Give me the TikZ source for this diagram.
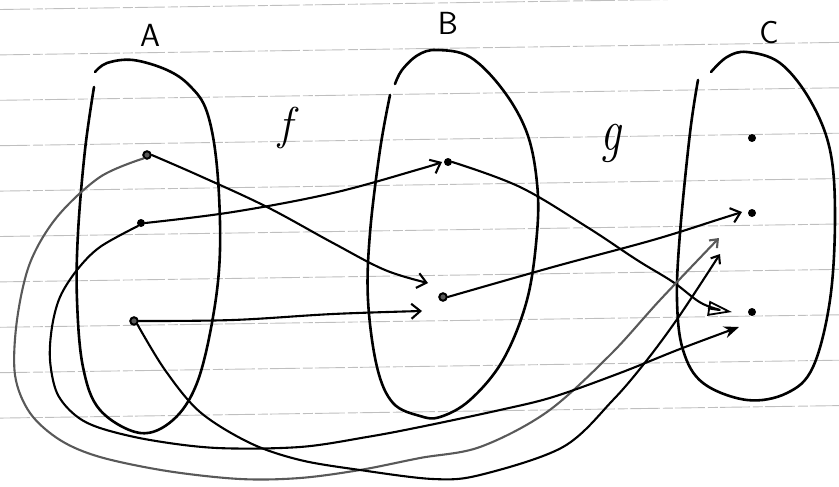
\documentclass[tikz,border=0pt]{standalone}
\usetikzlibrary{arrows.meta,calc}
\begin{document}
\begin{tikzpicture}[x=1pt,y=-1pt,
  ruled/.style={gray!50, line width=0.9pt, dash pattern=on 30pt off 3pt on 10pt off 2pt},
  setline/.style={line width=2.6pt, line cap=round, line join=round},
  filldot/.style={circle, fill=black, inner sep=0pt, minimum size=8pt},
  ringdot/.style={circle, draw=black, line width=2pt, fill=black!65, inner sep=0pt, minimum size=7.5pt},
  conn/.style={line width=2.1pt, line cap=round, line join=round},
  barb/.style={-{Straight Barb[length=9pt,width=15pt]}},
  smallbarb/.style={-{Straight Barb[length=7pt,width=11pt]}},
  hollowtri/.style={-{Triangle[open,length=24pt,width=15pt,line width=1.8pt]}},
  solidhead/.style={-{Stealth[length=15pt,width=12pt]}},
  setlabel/.style={font=\sffamily\fontsize{32}{32}\selectfont},
  maplabel/.style={font=\itshape\fontsize{46}{46}\selectfont}
]
\useasboundingbox (0,0) rectangle (839,487);
\clip (0,0) rectangle (839,487);

% ruled paper lines
\foreach \i in {0,...,9}{
  \draw[ruled] (0,{9.5+45.4*\i}) -- (839,{-3+45.4*\i});
}

% set outlines
\draw[setline] plot[smooth,tension=0.6] coordinates {(94,87) (85,150) (78,233) (77,300) (83,367) (100,410) (140,433) (173,420) (197,383) (213,317) (220,250) (217,167) (207,112) (190,86) (167,70) (133,60) (107,63) (95,72)};
\draw[setline] plot[smooth,tension=0.6] coordinates {(390,95) (380,150) (370,233) (368,300) (377,367) (393,403) (420,416) (440,417) (470,400) (503,360) (527,300) (537,233) (537,183) (527,133) (503,90) (470,57) (437,50) (418,55) (402,70) (395,84)};
\draw[setline] plot[smooth,tension=0.6] coordinates {(698,80) (690,133) (680,233) (677,300) (683,350) (703,383) (747,400) (787,393) (813,367) (830,300) (835,217) (830,150) (810,100) (780,63) (747,52) (727,57) (711,72)};

% labels
\node[setlabel] (labA) at (150,35) {A};
\node[setlabel] (labB) at (448,23) {B};
\node[setlabel] (labC) at (769,33) {C};
\node[maplabel] (labf) at (285,128) {f};
\node[maplabel] (labg) at (611,143) {\scalebox{1}[1.3]{g}};

% elements
\node[ringdot] (a1) at (147,155) {};
\node[filldot] (a2) at (141,223) {};
\node[ringdot] (a3) at (134,321) {};
\node[filldot] (b1) at (448,162) {};
\node[ringdot] (b2) at (443,297) {};
\node[filldot] (c1) at (752,138) {};
\node[filldot] (c2) at (752,213) {};
\node[filldot] (c3) at (752,312) {};

% arrow ends
\coordinate (b2fromA1) at ($(b2)+(-15,-14)$);
\coordinate (b1fromA2) at ($(b1)+(-6,0)$);
\coordinate (b2fromA3) at ($(b2)+(-21,14)$);
\coordinate (c3fromB1) at ($(c3)+(-20,0)$);
\coordinate (c2fromB2) at ($(c2)+(-10,-1)$);
\coordinate (c2fromA1) at ($(c2)+(-33,25)$);
\coordinate (c2fromA3) at ($(c2)+(-32,41)$);
\coordinate (c3fromA2) at ($(c3)+(-13,15)$);

% f
\draw[conn,barb] plot[smooth,tension=0.6] coordinates {(a1.east) (200,176) (267,207) (333,243) (385,270) (b2fromA1)};
\draw[conn,barb] plot[smooth,tension=0.6] coordinates {(a2.east) (233,212) (333,193) (420,169) (b1fromA2)};
\draw[conn,barb] plot[smooth,tension=0.6] coordinates {(a3.east) (233,320) (333,314) (b2fromA3)};

% g
\draw[conn,hollowtri] plot[smooth,tension=0.6] coordinates {(b1.east) (520,187) (587,227) (637,260) (673,282) (703,304) (c3fromB1)};
\draw[conn,barb] plot[smooth,tension=0.6] coordinates {(b2.east) (553,267) (653,240) (720,219) (c2fromB2)};

% g after f
\draw[conn,smallbarb,black!65] plot[smooth,tension=0.55] coordinates {(a1.south west) (100,177) (57,217) (30,263) (17,320) (15,375) (30,413) (60,440) (100,457) (167,471) (240,479) (300,478) (360,470) (420,458) (480,447) (547,412) (610,355) (660,300) (c2fromA1)};
\draw[conn,solidhead] plot[smooth,tension=0.55] coordinates {(a2.south west) (100,247) (77,270) (60,297) (52,327) (50,360) (57,393) (75,415) (100,428) (150,440) (217,448) (300,447) (367,437) (420,427) (500,410) (553,397) (620,373) (680,349) (c3fromA2)};
\draw[conn,smallbarb] plot[smooth,tension=0.55] coordinates {(a3.south east) (165,370) (200,412) (250,443) (300,460) (360,470) (433,479) (480,475) (563,447) (613,400) (647,360) (680,315) (c2fromA3)};
\end{tikzpicture}
\end{document}
